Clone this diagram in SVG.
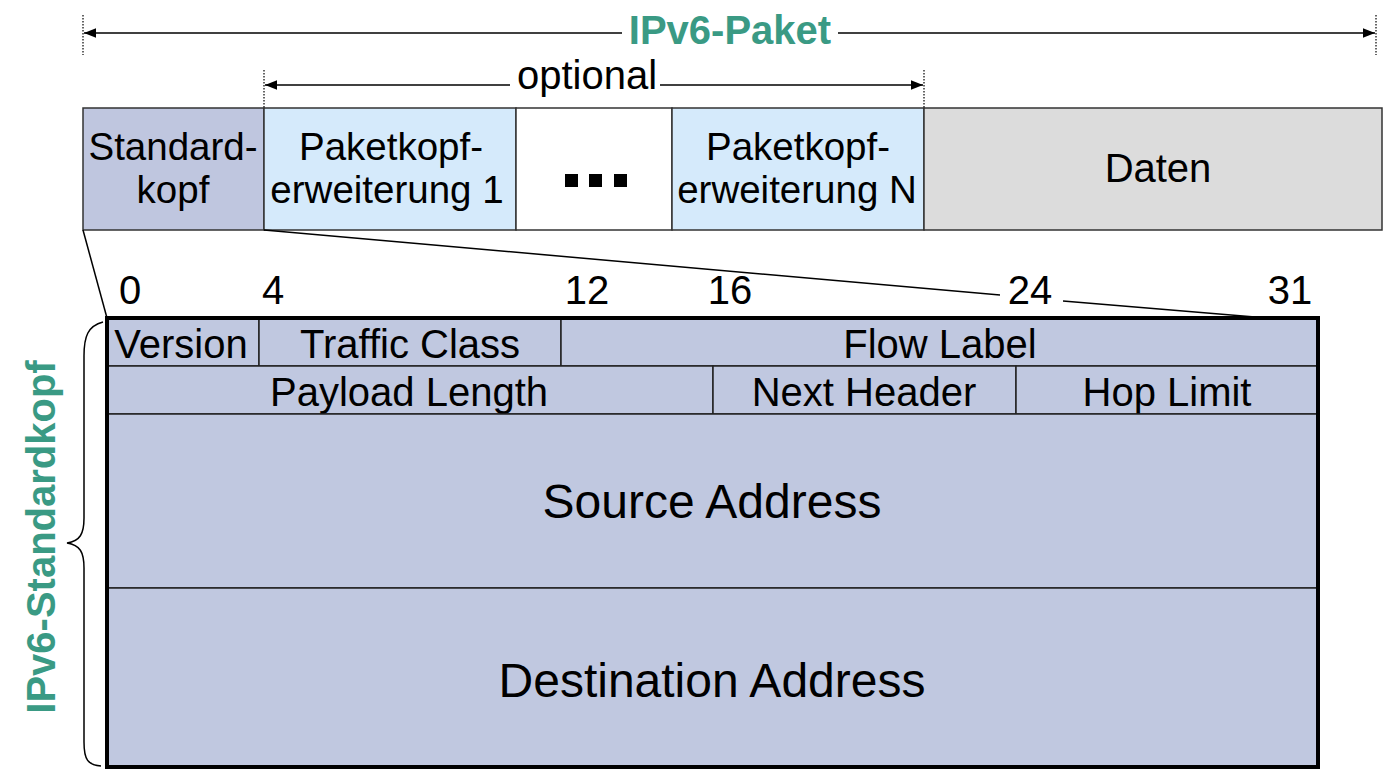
<svg xmlns="http://www.w3.org/2000/svg" width="1392" height="784" viewBox="0 0 1392 784">
<defs>
<marker id="ah" viewBox="0 0 10 10" refX="10" refY="5" markerWidth="12" markerHeight="12" markerUnits="userSpaceOnUse" orient="auto-start-reverse"><path d="M0,1 L10,5 L0,9 z" fill="#000"/></marker>
<style>
.t{font-family:"Liberation Sans",Arial,sans-serif;font-size:40px;fill:#000;text-anchor:middle}
.two{font-size:38.5px}
.big{font-size:48px}
.g{font-family:"Liberation Sans",Arial,sans-serif;font-size:40px;font-weight:bold;fill:#3a9a84;text-anchor:middle}
.box{stroke:#333;stroke-width:1.5}
.cell{fill:#c0c8e0;stroke:#222;stroke-width:1.5}
.dot{stroke:#000;stroke-width:1.2;stroke-dasharray:1.5 1.5;fill:none}
.ln{stroke:#000;stroke-width:1.5;fill:none}
</style>
</defs>
<rect width="1392" height="784" fill="#fff"/>

<g id="packet-dimension">
<line class="dot" x1="83" y1="15" x2="83" y2="55"/>
<line class="dot" x1="1376" y1="15" x2="1376" y2="55"/>
<line class="ln" x1="84" y1="33" x2="622" y2="33" marker-start="url(#ah)"/>
<line class="ln" x1="838" y1="33" x2="1375" y2="33" marker-end="url(#ah)"/>
<text class="g" x="730" y="44">IPv6-Paket</text>
</g>

<g id="optional-dimension">
<line class="dot" x1="264" y1="70" x2="264" y2="108"/>
<line class="dot" x1="924" y1="70" x2="924" y2="108"/>
<line class="ln" x1="265" y1="85" x2="510" y2="85" marker-start="url(#ah)"/>
<line class="ln" x1="660" y1="85" x2="923" y2="85" marker-end="url(#ah)"/>
<text class="t" x="587" y="89">optional</text>
</g>

<g id="standardkopf">
<rect class="box" x="83" y="108" width="181" height="122" fill="#bfc6df"/>
<text class="t two" x="173" y="160">Standard-</text>
<text class="t two" x="173" y="203">kopf</text>
</g>
<g id="erweiterung1">
<rect class="box" x="264" y="108" width="252" height="122" fill="#d5eafb"/>
<text class="t two" x="391" y="160">Paketkopf-</text>
<text class="t two" x="387" y="203">erweiterung 1</text>
</g>
<g id="dots">
<rect class="box" x="516" y="108" width="156" height="122" fill="#fff"/>
<rect x="565" y="174" width="13" height="13" fill="#000"/>
<rect x="589" y="174" width="13" height="13" fill="#000"/>
<rect x="614" y="174" width="13" height="13" fill="#000"/>
</g>
<g id="erweiterungN">
<rect class="box" x="672" y="108" width="252" height="122" fill="#d5eafb"/>
<text class="t two" x="798" y="160">Paketkopf-</text>
<text class="t two" x="797" y="203">erweiterung N</text>
</g>
<g id="daten">
<rect class="box" x="924" y="108" width="458" height="122" fill="#dcdcdc"/>
<text class="t" x="1158" y="182">Daten</text>
</g>

<g id="connectors">
<line class="ln" x1="83" y1="230" x2="107" y2="318"/>
<line class="ln" x1="264" y1="230" x2="1000" y2="295"/>
<line class="ln" x1="1063" y1="301" x2="1267" y2="318"/>
<path class="ln" d="M103,322 C88,326 84,336 84,356 L84,518 C84,534 80,541 67,543 C80,545 84,552 84,568 L84,742 C84,760 88,765 101,766"/>
</g>

<g id="bits">
<text class="t" x="130" y="304">0</text>
<text class="t" x="273" y="304">4</text>
<text class="t" x="587" y="304">12</text>
<text class="t" x="730" y="304">16</text>
<text class="t" x="1030" y="304">24</text>
<text class="t" x="1290" y="304">31</text>
</g>

<g id="header">
<g id="version"><rect class="cell" x="107" y="318" width="152" height="48"/><text class="t" x="181" y="358">Version</text></g>
<g id="traffic-class"><rect class="cell" x="259" y="318" width="302" height="48"/><text class="t" x="410" y="358">Traffic Class</text></g>
<g id="flow-label"><rect class="cell" x="561" y="318" width="757" height="48"/><text class="t" x="940" y="358">Flow Label</text></g>
<g id="payload-length"><rect class="cell" x="107" y="366" width="606" height="48"/><text class="t" x="409" y="406">Payload Length</text></g>
<g id="next-header"><rect class="cell" x="713" y="366" width="303" height="48"/><text class="t" x="864" y="406">Next Header</text></g>
<g id="hop-limit"><rect class="cell" x="1016" y="366" width="302" height="48"/><text class="t" x="1167" y="406">Hop Limit</text></g>
<g id="source"><rect class="cell" x="107" y="414" width="1211" height="174"/><text class="t big" x="712" y="518">Source Address</text></g>
<g id="destination"><rect class="cell" x="107" y="588" width="1211" height="179"/><text class="t big" x="712" y="697">Destination Address</text></g>
<rect x="107" y="318" width="1211" height="449" fill="none" stroke="#000" stroke-width="4"/>
</g>

<g id="side-label">
<text class="g" transform="translate(55,537) rotate(-90)">IPv6-Standardkopf</text>
</g>
</svg>
